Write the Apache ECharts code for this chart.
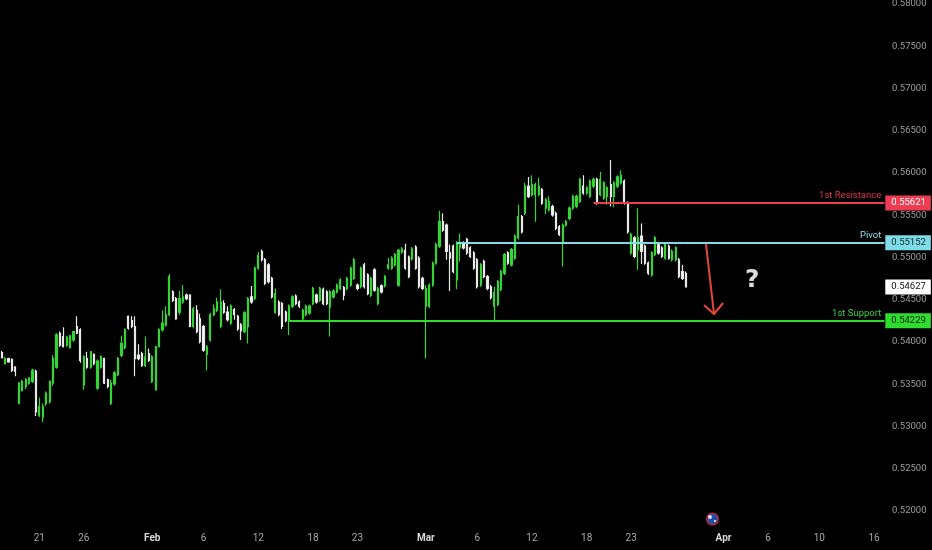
<!DOCTYPE html>
<html><head><meta charset="utf-8">
<style>html,body{margin:0;padding:0;background:#000}#c{width:932px;height:550px}</style>
<script src="https://cdn.jsdelivr.net/npm/echarts@6/dist/echarts.min.js"></script>
</head><body><div id="c"></div>
<script>
const opens=[.5385,.5372,.5378,.5377,.5368,.5325,.5340,.5345,.5349,.5351,.5363,.5311,.5309,.5325,.5327,.5349,.5368,.5408,.5404,.5394,.5391,.5400,.5416,.5412,.5347,.5378,.5368,.5383,.5343,.5368,.5378,.5353,.5325,.5348,.5359,.5382,.5391,.5428,.5423,.5416,.5382,.5384,.5370,.5384,.5351,.5341,.5392,.5412,.5418,.5430,.5457,.5449,.5433,.5445,.5453,.5453,.5416,.5435,.5425,.5416,.5383,.5400,.5430,.5435,.5416,.5443,.5433,.5420,.5436,.5428,.5418,.5410,.5416,.5451,.5449,.5485,.5505,.5495,.5489,.5473,.5433,.5445,.5443,.5433,.5423,.5440,.5452,.5445,.5425,.5430,.5432,.5443,.5453,.5447,.5460,.5457,.5439,.5451,.5457,.5461,.5462,.5461,.5465,.5473,.5465,.5463,.5489,.5477,.5453,.5483,.5443,.5464,.5464,.5485,.5485,.5489,.5465,.5504,.5506,.5498,.5496,.5510,.5497,.5473,.5440,.5440,.5465,.5491,.5511,.5540,.5536,.5503,.5511,.5471,.5509,.5515,.5519,.5509,.5503,.5495,.5465,.5493,.5475,.5463,.5440,.5442,.5460,.5479,.5503,.5489,.5497,.5521,.5546,.5550,.5582,.5572,.5572,.5572,.5578,.5556,.5554,.5558,.5550,.5534,.5515,.5536,.5544,.5556,.5558,.5564,.5582,.5574,.5570,.5582,.5590,.5572,.5568,.5570,.5584,.5570,.5582,.5586,.5588,.5562,.5503,.5521,.5507,.5523,.5511,.5491,.5477,.5501,.5513,.5509,.5497,.5511,.5495,.5495,.5495,.5481,.5479];
const closes=[.5379,.5378,.5374,.5364,.5363,.5349,.5351,.5353,.5355,.5364,.5315,.5321,.5321,.5337,.5351,.5378,.5406,.5394,.5392,.5403,.5405,.5410,.5408,.5376,.5380,.5368,.5386,.5372,.5375,.5380,.5349,.5345,.5349,.5361,.5378,.5396,.5412,.5414,.5416,.5378,.5378,.5370,.5380,.5376,.5380,.5392,.5412,.5420,.5430,.5475,.5447,.5425,.5449,.5451,.5449,.5416,.5437,.5410,.5398,.5388,.5392,.5430,.5437,.5445,.5445,.5433,.5424,.5440,.5430,.5413,.5411,.5432,.5449,.5445,.5485,.5500,.5495,.5467,.5469,.5451,.5455,.5430,.5416,.5423,.5440,.5451,.5443,.5440,.5435,.5440,.5440,.5461,.5445,.5461,.5443,.5443,.5457,.5458,.5465,.5471,.5453,.5473,.5485,.5495,.5461,.5485,.5463,.5455,.5473,.5459,.5461,.5457,.5475,.5489,.5497,.5501,.5506,.5508,.5485,.5475,.5508,.5485,.5463,.5461,.5461,.5465,.5491,.5513,.5540,.5530,.5505,.5497,.5481,.5515,.5515,.5509,.5503,.5499,.5485,.5463,.5489,.5475,.5461,.5450,.5456,.5469,.5481,.5501,.5491,.5507,.5523,.5546,.5528,.5582,.5570,.5584,.5584,.5582,.5562,.5566,.5564,.5548,.5532,.5525,.5536,.5540,.5556,.5570,.5570,.5590,.5574,.5580,.5588,.5590,.5562,.5590,.5586,.5580,.5570,.5586,.5593,.5595,.5562,.5528,.5525,.5499,.5521,.5505,.5491,.5479,.5503,.5521,.5503,.5499,.5513,.5497,.5505,.5509,.5475,.5473,.54627];
const lows=[.5378,.5371,.5373,.5362,.5357,.5324,.5339,.5342,.5347,.5349,.5310,.5309,.5303,.5322,.5325,.5346,.5366,.5392,.5391,.5392,.5390,.5398,.5407,.5373,.5341,.5366,.5366,.5370,.5341,.5366,.5348,.5343,.5323,.5346,.5357,.5380,.5389,.5412,.5414,.5357,.5376,.5368,.5368,.5374,.5349,.5341,.5391,.5410,.5416,.5428,.5445,.5424,.5430,.5443,.5447,.5415,.5414,.5408,.5396,.5386,.5364,.5398,.5428,.5433,.5414,.5431,.5422,.5418,.5424,.5411,.5400,.5408,.5396,.5443,.5447,.5483,.5493,.5465,.5467,.5449,.5431,.5428,.5413,.5421,.5406,.5438,.5441,.5438,.5423,.5428,.5430,.5441,.5443,.5445,.5441,.5441,.5404,.5449,.5455,.5459,.5447,.5459,.5463,.5471,.5459,.5461,.5461,.5453,.5451,.5457,.5441,.5455,.5462,.5483,.5483,.5487,.5463,.5502,.5483,.5473,.5494,.5483,.5461,.5459,.5378,.5438,.5463,.5489,.5509,.5528,.5495,.5458,.5479,.5460,.5493,.5507,.5501,.5497,.5483,.5461,.5463,.5473,.5459,.5448,.5423,.5440,.5458,.5477,.5489,.5487,.5495,.5519,.5526,.5548,.5568,.5570,.5540,.5570,.5560,.5549,.5552,.5546,.5530,.5523,.5487,.5534,.5542,.5554,.5556,.5562,.5572,.5572,.5568,.5580,.5560,.5570,.5566,.5560,.5558,.5557,.5580,.5584,.5560,.5526,.5501,.5497,.5483,.5490,.5489,.5477,.5475,.5499,.5501,.5497,.5495,.5495,.5493,.5493,.5473,.5471,.5462];
const highs=[.5387,.5380,.5379,.5378,.5369,.5350,.5353,.5355,.5356,.5366,.5365,.5332,.5325,.5339,.5352,.5382,.5408,.5410,.5415,.5405,.5406,.5411,.5428,.5414,.5382,.5386,.5387,.5384,.5377,.5382,.5379,.5354,.5353,.5363,.5380,.5405,.5414,.5429,.5428,.5428,.5395,.5386,.5404,.5390,.5382,.5393,.5414,.5435,.5440,.5478,.5459,.5451,.5458,.5465,.5455,.5454,.5439,.5441,.5431,.5418,.5394,.5432,.5442,.5450,.5460,.5447,.5440,.5442,.5438,.5430,.5420,.5434,.5451,.5464,.5487,.5504,.5507,.5497,.5491,.5475,.5461,.5447,.5445,.5435,.5442,.5453,.5454,.5447,.5437,.5442,.5442,.5463,.5455,.5463,.5462,.5459,.5459,.5460,.5467,.5473,.5464,.5475,.5487,.5497,.5467,.5487,.5491,.5479,.5475,.5485,.5463,.5466,.5477,.5497,.5499,.5503,.5508,.5510,.5514,.5500,.5510,.5512,.5499,.5475,.5465,.5467,.5493,.5515,.5553,.5550,.5538,.5513,.5513,.5517,.5526,.5517,.5521,.5511,.5505,.5497,.5491,.5495,.5477,.5465,.5463,.5471,.5483,.5503,.5505,.5509,.5525,.5560,.5548,.5586,.5593,.5595,.5586,.5592,.5580,.5568,.5570,.5560,.5552,.5536,.5538,.5542,.5558,.5572,.5572,.5592,.5595,.5582,.5590,.5592,.5592,.5599,.5588,.5582,.5613,.5588,.5595,.5601,.5590,.5564,.5527,.5523,.5556,.5538,.5513,.5493,.5505,.5523,.5515,.5511,.5515,.5513,.5507,.5511,.5497,.5489,.5481];
const slotCount=259;
const tickSlots=[11,24,44,59,75,91,104,124,139,155,171,184,211,224,239,255];
const tickTexts=['21','26','Feb','6','12','18','23','Mar','6','12','18','23','Apr','6','10','16'];
const monthTicks=['Feb','Mar','Apr'];
const levelNames=['1st Resistance','Pivot','1st Support'];
const levelValues=[0.55621,0.55152,0.54229];
const levelStarts=[173,133,84];
const levelColors=['#ee3d52','#7fdbe8','#2fdc2f'];
const levelNameColors=['#e0334a','#8fdfe8','#3fd03f'];
const levelTextColors=['#ffffff','#0b2a30','#062206'];
const lastPrice=0.54627;

const categories=Array.from({length:slotCount},(_,i)=>{const k=tickSlots.indexOf(i);return k>=0?tickTexts[k]:'';});
const candles=opens.map((o,i)=>[o,closes[i],lows[i],highs[i]]);
const FONT='Roboto, "DejaVu Sans", sans-serif';

const lineData=[];
levelValues.forEach((v,i)=>{
  lineData.push([
    {coord:[levelStarts[i],v],lineStyle:{color:levelColors[i],width:2,type:'solid'},symbol:'none',
     label:{show:true,position:'insideEndTop',formatter:levelNames[i],color:levelNameColors[i],fontSize:9.5,fontFamily:FONT,distance:2,padding:[0,1,0,0]}},
    {coord:[slotCount-1,v]}
  ]);
  lineData.push([
    {coord:[slotCount-2,v],lineStyle:{color:levelColors[i],width:2,type:'solid'},symbol:'none',
     label:{show:true,position:'end',formatter:v.toFixed(5),color:levelTextColors[i],backgroundColor:levelColors[i],fontSize:9.5,fontFamily:FONT,padding:[3,5,2,6],distance:1}},
    {coord:[slotCount-1,v]}
  ]);
});
lineData.push([
  {coord:[slotCount-2,lastPrice],lineStyle:{width:1,color:'#000000',type:'solid'},symbol:'none',
   label:{show:true,position:'end',formatter:lastPrice.toFixed(5),color:'#111111',backgroundColor:'#ffffff',fontSize:9.5,fontFamily:FONT,padding:[3,5,2,6],distance:1}},
  {coord:[slotCount-1,lastPrice]}
]);

const chart=echarts.init(document.getElementById('c'),null,{renderer:'canvas'});
chart.setOption({
  animation:false,
  backgroundColor:'#000000',
  grid:{left:0,top:2,width:886,height:507,containLabel:false,outerBoundsMode:'none'},
  xAxis:{type:'category',data:categories,boundaryGap:true,
    axisLine:{show:false},axisTick:{show:false},splitLine:{show:false},
    axisLabel:{interval:(i,v)=>v!=='',margin:24,
      formatter:v=>monthTicks.includes(v)?'{m|'+v+'}':'{d|'+v+'}',
      rich:{m:{color:'#d8d8d8',fontWeight:'bold',fontSize:10,fontFamily:FONT},d:{color:'#a8a8a8',fontSize:10,fontFamily:FONT}}}},
  yAxis:{type:'value',position:'right',min:0.52,max:0.58,interval:0.005,
    axisLine:{show:false},axisTick:{show:false},splitLine:{show:false},
    axisLabel:{color:'#9c9c9c',fontSize:9.5,fontFamily:FONT,margin:6,verticalAlign:'top',padding:[-3,0,0,0],formatter:v=>v.toFixed(5)}},
  series:[{type:'candlestick',data:candles,barWidth:1.7,
    itemStyle:{color:'#35d435',color0:'#f4f4f4',borderColor:'#35d435',borderColor0:'#e8e8e8',borderWidth:1.2},
    markLine:{silent:true,animation:false,symbol:'none',data:lineData,precision:5,lineStyle:{type:'solid'}}
  }],
  graphic:[
    {type:'polyline',z:20,shape:{points:[[706,244],[714,314]]},style:{stroke:'#e8453c',lineWidth:2,fill:null}},
    {type:'polyline',z:20,shape:{points:[[704,305],[714,314],[723,303]]},style:{stroke:'#e8453c',lineWidth:2,fill:null}},
    {type:'text',z:20,left:745,top:268,style:{text:'?',fill:'#dcdcdc',font:'bold 25px "DejaVu Sans", sans-serif'}},
    {type:'circle',z:20,shape:{cx:712.5,cy:519,r:5.8},style:{fill:'#1f4fa8',stroke:'#b02a3a',lineWidth:1.5}},
    {type:'circle',z:21,shape:{cx:710,cy:517,r:2},style:{fill:'#e8dce0'}},
    {type:'circle',z:21,shape:{cx:715,cy:521,r:1},style:{fill:'#ffffff'}}
  ]
});
</script></body></html>
